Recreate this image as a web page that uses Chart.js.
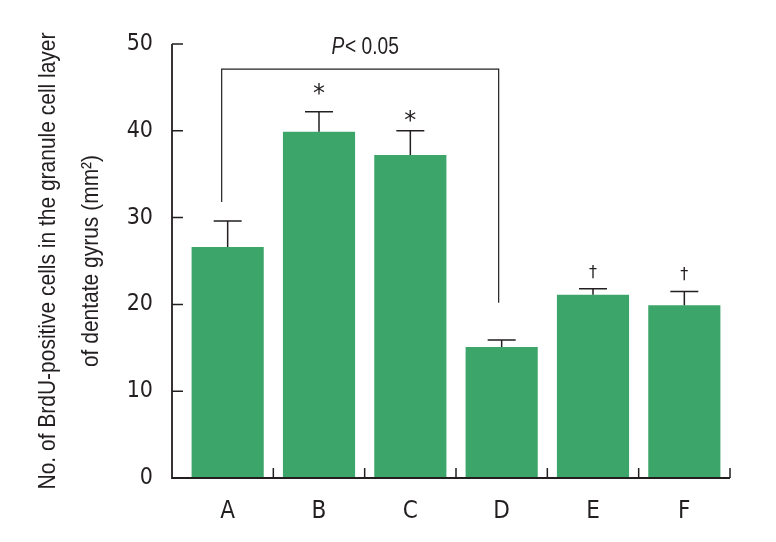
<!DOCTYPE html>
<html>
<head>
<meta charset="utf-8">
<script src="https://cdn.jsdelivr.net/npm/chart.js@4"></script>
<style>
  html, body { margin: 0; padding: 0; background: #ffffff; }
  #wrap { width: 776px; height: 542px; }
</style>
</head>
<body>
<div id="wrap"><canvas id="brduChart" width="776" height="542"></canvas></div>
<script>
// Values (upper error bar only)
const categories = ['A', 'B', 'C', 'D', 'E', 'F'];
const meanCounts = [26.6, 39.9, 37.2, 15.1, 21.1, 19.9];
const upperErrors = [29.6, 42.2, 40.0, 15.9, 21.8, 21.5];
const markers = ['', '*', '*', '', '\u2020', '\u2020'];
const markerLevels = [0, 44.6, 41.5, 0, 23.6, 23.4];
const yTicks = [0, 10, 20, 30, 40, 50];
const titleLines = ['No. of BrdU-positive cells in the granule cell layer', 'of dentate gyrus (mm\u00b2)'];

// P < 0.05 bracket between A and D (in data units)
const bracketFrom = 0;
const bracketTo = 3;
const bracketTop = 47.1;
const bracketLeftEnd = 31.8;
const bracketRightEnd = 20.2;

const INK = '#231f20';
const BAR_GREEN = '#3ca66a';
const FONT = "'Liberation Sans Narrow', 'DejaVu Sans Condensed', 'Arial Narrow', sans-serif";
const WIDE_FONT = "'Liberation Sans', Arial, sans-serif";

/**
 * Draws the axes (offset y axis, inward ticks), error bars,
 * significance marks, the bracket and the y-axis title
 */
const figureExtras = {
  id: 'figureExtras',
  afterDatasetsDraw(chart) {
    const { ctx, chartArea, scales } = chart;
    const y = scales.y;
    const bars = chart.getDatasetMeta(0).data;

    ctx.save();
    ctx.strokeStyle = INK;
    ctx.fillStyle = INK;
    ctx.lineWidth = 1.5;

    // error bars
    bars.forEach((bar, i) => {
      const top = y.getPixelForValue(upperErrors[i]);
      ctx.beginPath();
      ctx.moveTo(bar.x, bar.y);
      ctx.lineTo(bar.x, top);
      ctx.moveTo(bar.x - 14, top);
      ctx.lineTo(bar.x + 14, top);
      ctx.stroke();
    });

    // axes
    const axisX = chartArea.left - 10;
    const y0 = y.getPixelForValue(0);
    ctx.lineWidth = 1.8;
    ctx.beginPath();
    ctx.moveTo(axisX, y.getPixelForValue(50));
    ctx.lineTo(axisX, y0);
    ctx.lineTo(chartArea.right, y0);
    ctx.stroke();

    ctx.lineWidth = 1.5;
    ctx.beginPath();
    yTicks.forEach(v => {
      const py = y.getPixelForValue(v);
      ctx.moveTo(axisX, py);
      ctx.lineTo(axisX + 11, py);
    });
    // category boundaries on the x axis, ticks pointing up
    for (let i = 0; i < bars.length; i++) {
      const bx = i < bars.length - 1 ? (bars[i].x + bars[i + 1].x) / 2 : chartArea.right;
      ctx.moveTo(bx, y0);
      ctx.lineTo(bx, y0 - 10);
    }
    ctx.stroke();

    // bracket
    const lx = bars[bracketFrom].x - 6;
    const rx = bars[bracketTo].x - 3;
    ctx.lineWidth = 1.2;
    ctx.beginPath();
    ctx.moveTo(lx, y.getPixelForValue(bracketLeftEnd));
    ctx.lineTo(lx, y.getPixelForValue(bracketTop));
    ctx.lineTo(rx, y.getPixelForValue(bracketTop));
    ctx.lineTo(rx, y.getPixelForValue(bracketRightEnd));
    ctx.stroke();

    // P < 0.05 label, condensed like the original
    const squeeze = 0.8;
    ctx.textBaseline = 'alphabetic';
    ctx.textAlign = 'left';
    const pFont = 'italic 24px ' + WIDE_FONT;
    const restFont = '24px ' + WIDE_FONT;
    ctx.font = pFont;
    const wP = ctx.measureText('P').width;
    ctx.font = restFont;
    const wRest = ctx.measureText('< 0.05').width;
    const cx = (lx + rx) / 2 + 5;
    const baseY = y.getPixelForValue(bracketTop) - 15;
    ctx.save();
    ctx.translate(cx - squeeze * (wP + wRest + 1) / 2, baseY);
    ctx.scale(squeeze, 1);
    ctx.font = pFont;
    ctx.fillText('P', 0, 0);
    ctx.font = restFont;
    ctx.fillText('< 0.05', wP + 1, 0);
    ctx.restore();

    // significance marks
    ctx.textAlign = 'center';
    ctx.textBaseline = 'middle';
    bars.forEach((bar, i) => {
      if (!markers[i]) return;
      const my = y.getPixelForValue(markerLevels[i]);
      if (markers[i] === '*') {
        ctx.font = '24px DejaVu Sans';
        ctx.fillText('*', bar.x, my + 4);
      } else {
        ctx.font = '16px DejaVu Sans';
        ctx.fillText(markers[i], bar.x, my);
      }
    });

    // y-axis title, two rotated lines, condensed to the original length
    const midY = (chartArea.top + chartArea.bottom) / 2;
    ctx.font = '24px ' + WIDE_FONT;
    const titleSqueeze = 457 / ctx.measureText(titleLines[0]).width;
    ctx.textBaseline = 'alphabetic';
    ctx.textAlign = 'center';
    [55, 98].forEach((bx, k) => {
      ctx.save();
      ctx.translate(bx, midY);
      ctx.rotate(-Math.PI / 2);
      ctx.scale(titleSqueeze, 1);
      ctx.fillText(titleLines[k], 0, 0);
      ctx.restore();
    });

    ctx.restore();
  }
};

const ctx = document.getElementById('brduChart').getContext('2d');
new Chart(ctx, {
  type: 'bar',
  data: {
    labels: categories,
    datasets: [{
      data: meanCounts,
      backgroundColor: BAR_GREEN,
      borderWidth: 0,
      categoryPercentage: 1,
      barPercentage: 0.79
    }]
  },
  options: {
    responsive: false,
    animation: false,
    devicePixelRatio: 1,
    layout: {
      padding: { top: 44, right: 46, bottom: 0, left: 0 }
    },
    scales: {
      x: {
        grid: { display: false, drawTicks: false },
        border: { display: false },
        ticks: {
          color: INK,
          padding: 19,
          font: { family: FONT, size: 24 }
        },
        afterFit(scale) { scale.height = 64; }
      },
      y: {
        min: 0,
        max: 50,
        grid: { display: false, drawTicks: false },
        border: { display: false },
        ticks: {
          stepSize: 10,
          color: INK,
          padding: 29,
          font: { family: FONT, size: 23 }
        },
        afterFit(scale) { scale.width = 182; }
      }
    },
    plugins: {
      legend: { display: false },
      tooltip: { enabled: false }
    }
  },
  plugins: [figureExtras]
});
</script>
</body>
</html>
